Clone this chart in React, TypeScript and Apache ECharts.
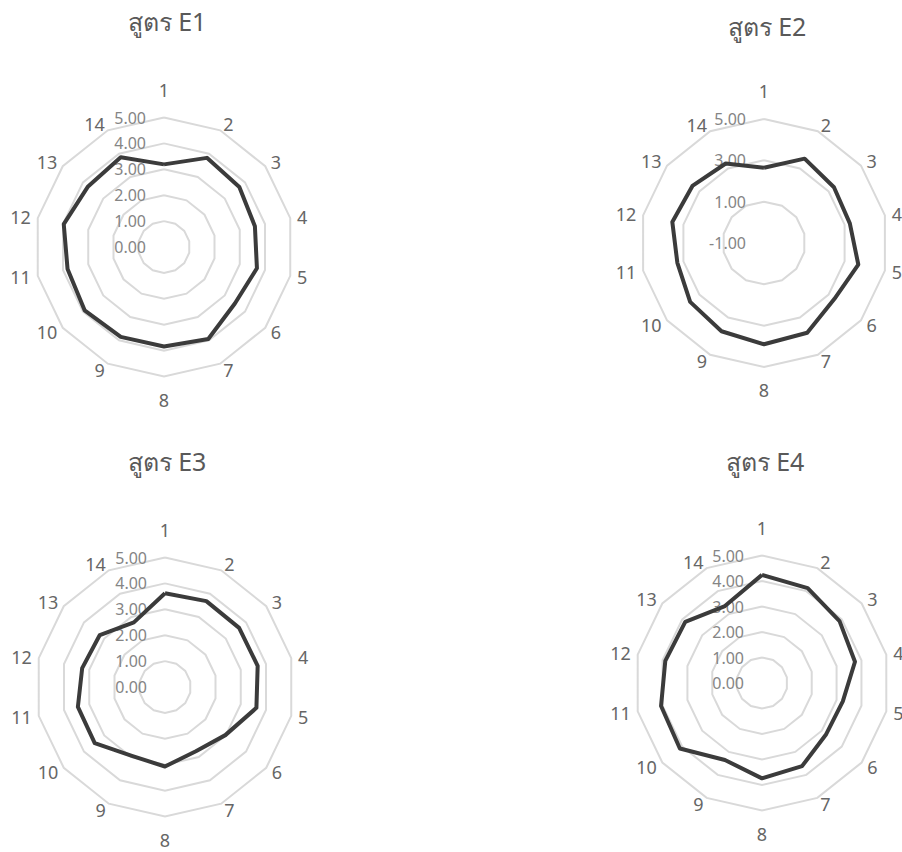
import React, { useEffect, useRef } from "react";
import * as echarts from "echarts";

const axisNames = ["1", "2", "3", "4", "5", "6", "7", "8", "9", "10", "11", "12", "13", "14"];
const titles = ["สูตร E1", "สูตร E2", "สูตร E3", "สูตร E4"];
const valuesE1 = [3.19, 3.82, 3.72, 3.6, 3.68, 3.5, 3.94, 3.84, 3.85, 3.92, 3.82, 3.97, 3.75, 3.85];
const valuesE2 = [2.64, 3.53, 3.33, 3.26, 3.68, 3.35, 3.82, 3.9, 3.74, 3.57, 3.3, 3.55, 3.43, 3.27];
const valuesE3 = [3.62, 3.68, 3.66, 3.67, 3.62, 2.98, 2.75, 3.07, 2.95, 3.47, 3.45, 3.28, 3.22, 2.77];
const valuesE4 = [4.24, 4.13, 3.89, 3.74, 3.25, 3.22, 3.62, 3.74, 3.35, 4.12, 4.06, 3.89, 3.85, 3.35];
const axisMins = [0, -1, 0, 0];
const axisMaxs = [5, 5, 5, 5];
const splitCounts = [5, 3, 5, 5];

const FONT = "'Noto Sans', 'Open Sans', sans-serif";

// ECharts places indicators counter-clockwise; reorder so they run clockwise like the reference
const clockwise = <T,>(arr: T[]): T[] => [arr[0], ...arr.slice(1).reverse()];

export default function App() {
  const ref = useRef<HTMLDivElement>(null);
  useEffect(() => {
    if (!ref.current) return;
    const chart = echarts.init(ref.current, undefined, { renderer: "svg" });
    const allValues = [valuesE1, valuesE2, valuesE3, valuesE4];
    const layout = [
      { center: [164, 247], radius: 129.5, titleX: 162, titleY: 3 },
      { center: [764, 243], radius: 124, titleX: 762, titleY: 8 },
      { center: [165, 687], radius: 129.5, titleX: 162, titleY: 443 },
      { center: [762, 683], radius: 127.5, titleX: 760, titleY: 443 },
    ];
    const buildIndicators = (k: number) =>
      clockwise(axisNames).map((n) => ({
        name: n,
        min: axisMins[k],
        max: axisMaxs[k],
        nameGap: n === "1" ? 19 : n === "8" ? 14 : 7,
        axisLabel:
          n === "1"
            ? {
                show: true,
                color: "#858585",
                fontSize: 16,
                fontFamily: FONT,
                margin: 18,
                formatter: (v: number) => v.toFixed(2),
              }
            : { show: false },
      }));
    const option = {
      animation: false,
      backgroundColor: "#ffffff",
      title: titles.map((t, k) => ({
        text: t,
        left: layout[k].titleX,
        top: layout[k].titleY,
        textAlign: "center",
        textStyle: { color: "#595959", fontSize: 25, fontWeight: "normal", fontFamily: FONT },
      })),
      radar: layout.map((l, k) => ({
        center: l.center,
        radius: l.radius,
        startAngle: 90,
        shape: "polygon",
        splitNumber: splitCounts[k],
        indicator: buildIndicators(k),
        axisName: { color: "#666666", fontSize: 18, fontFamily: FONT },
        axisLine: { show: false },
        axisTick: { show: false },
        axisLabel: { show: false },
        splitLine: { lineStyle: { color: "#d9d9d9", width: 2 } },
        splitArea: { show: false },
      })),
      series: allValues.map((vals, k) => ({
        type: "radar",
        radarIndex: k,
        symbol: "none",
        lineStyle: { color: "#3b3b3b", width: 4 },
        data: [{ value: clockwise(vals), name: titles[k] }],
      })),
    };
    chart.setOption(option as any);
    return () => chart.dispose();
  }, []);
  return (
    <div
      ref={ref}
      style={{ position: "absolute", left: 0, top: 0, width: 902, height: 852, background: "#fff" }}
    />
  );
}
